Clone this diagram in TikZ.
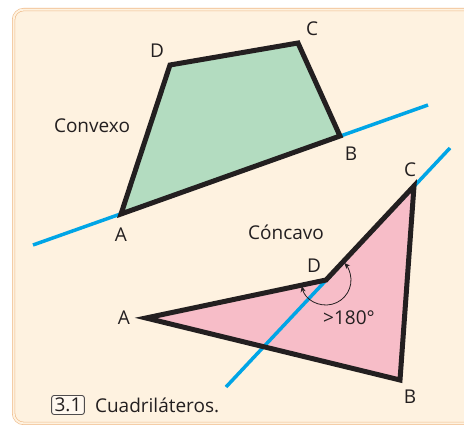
\documentclass[tikz,border=0pt]{standalone}
\usepackage{fontspec}
\setmainfont{Open Sans}
\usetikzlibrary{arrows.meta,positioning}

\definecolor{paper}{HTML}{FEF2E0}
\definecolor{frameline}{HTML}{EFBA88}
\definecolor{convexfill}{HTML}{B3DCC0}
\definecolor{concavefill}{HTML}{F7BDC8}
\definecolor{cutblue}{HTML}{00A5E6}
\definecolor{ink}{HTML}{231F20}

\begin{document}
\begin{tikzpicture}[
    x=1pt, y=1pt,
    node font=\fontsize{19}{22}\selectfont,
    >=Stealth,
    side/.style={ink, line width=5pt, line join=miter},
    cut line/.style={cutblue, line width=3.5pt},
    vertex label/.style={text=ink, inner sep=0pt},
    angle arc/.style={ink, line width=0.8pt, {Stealth[length=6pt,width=5pt]}-{Stealth[length=6pt,width=5pt]}},
]

% === FRAME ===
\useasboundingbox (0,0) rectangle (464,428);
\fill[paper, rounded corners=10pt] (13.6,4.6) rectangle (480,418.4);
\draw[frameline, double=paper, double distance=2pt, line width=0.6pt, rounded corners=10pt]
    (13.6,4.6) rectangle (480,418.4);

% === TOP: Convex quadrilateral ===
\begin{scope}
    % Vertices
    \coordinate (A1) at (121,214);
    \coordinate (B1) at (340,292);
    \coordinate (C1) at (298,385);
    \coordinate (D1) at (170,363);
    
    % Fill
    \fill[convexfill] (A1) -- (B1) -- (C1) -- (D1) -- cycle;
    
    % Line through A and B
    \coordinate (L1s) at (33,183);
    \coordinate (L1e) at (428,323);
    \draw[cut line] (L1s) -- (L1e);
    
    % Sides
    \draw[side] (A1) -- (B1) -- (C1) -- (D1) -- cycle;
    
    % Vertex labels
    \node[vertex label] (labA1) at (121,193) {A};
    \node[vertex label] (labB1) at (351,274) {B};
    \node[vertex label] (labC1) at (312,399) {C};
    \node[vertex label] (labD1) at (157,377) {D};
    
    % Name
    \node[vertex label] (convexo) at (92,302) {Convexo};
\end{scope}

% === BOTTOM: Concave quadrilateral ===
\begin{scope}
    % Vertices
    \coordinate (A2) at (146,110);
    \coordinate (B2) at (400,48);
    \coordinate (C2) at (414,242);
    \coordinate (D2) at (326,148);
    
    % Fill
    \fill[concavefill] (A2) -- (B2) -- (C2) -- (D2) -- cycle;
    
    % Line through D and C
    \coordinate (L2s) at (226,41);
    \coordinate (L2e) at (450,280);
    \draw[cut line] (L2s) -- (L2e);
    
    % Sides
    \draw[side] (A2) -- (B2) -- (C2) -- (D2) -- cycle;
    
    % Reflex angle at D
    \draw[angle arc] ([shift={(194:25)}]D2) arc[start angle=194, end angle=403, radius=25];
    \node[vertex label] (reflex) at (349,110) {>180°};
    
    % Vertex labels
    \node[vertex label] (labA2) at (124,110) {A};
    \node[vertex label] (labB2) at (410,31) {B};
    \node[vertex label] (labC2) at (410,258) {C};
    \node[vertex label] (labD2) at (314,162) {D};
    
    % Name
    \node[vertex label] (concavo) at (286,196) {Cóncavo};
\end{scope}

% === CAPTION ===
\node[draw=ink!80, fill=white!50!paper, rounded corners=2.5pt, line width=0.9pt,
      inner xsep=3pt, inner ysep=2.5pt, text=ink] (fignum) at (68,23) {3.1};
\node[vertex label, right=10pt of fignum] (caption) {Cuadriláteros.};

\end{tikzpicture}
\end{document}
